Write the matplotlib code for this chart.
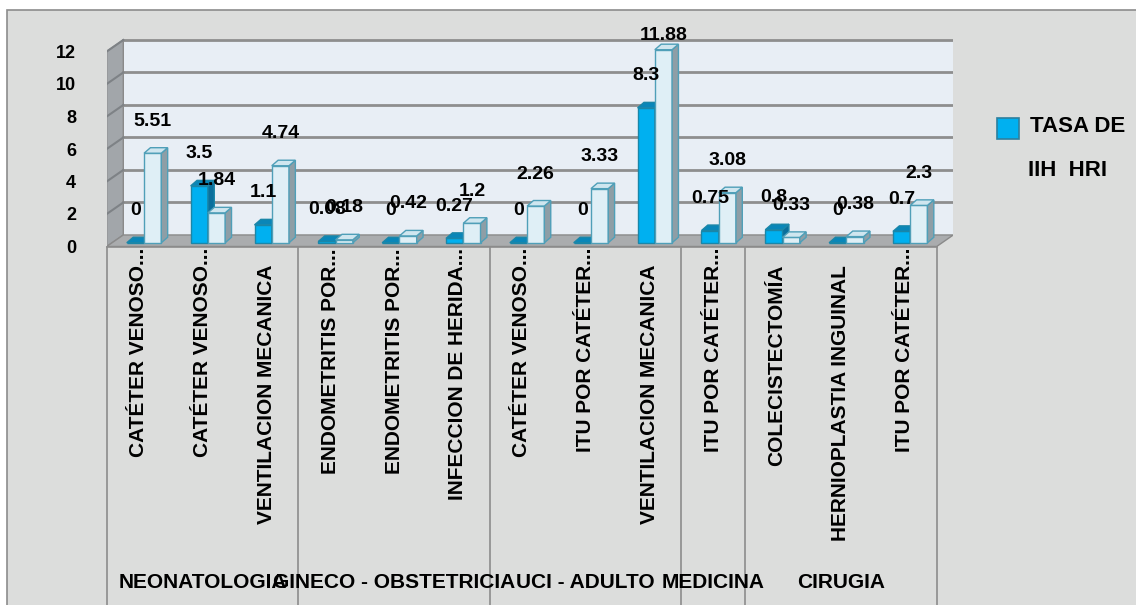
import numpy as np
import matplotlib
matplotlib.use("Agg")
import matplotlib.pyplot as plt
import matplotlib.transforms as mtransforms
from matplotlib.patches import Polygon, Rectangle

plt.rcParams['font.family'] = ['Liberation Sans', 'DejaVu Sans']
plt.rcParams['font.weight'] = 'bold'

# data
categories = ["CATÉTER VENOSO...", "CATÉTER VENOSO...", "VENTILACION MECANICA",
              "ENDOMETRITIS POR...", "ENDOMETRITIS POR...", "INFECCION DE HERIDA...",
              "CATÉTER VENOSO...", "ITU POR CATÉTER...", "VENTILACION MECANICA",
              "ITU POR CATÉTER...", "COLECISTECTOMÍA", "HERNIOPLASTIA INGUINAL",
              "ITU POR CATÉTER..."]
groups = ["NEONATOLOGIA", "GINECO - OBSTETRICIA", "UCI - ADULTO", "MEDICINA", "CIRUGIA"]
group_sizes = [3, 3, 3, 1, 3]
tasa_iih = [0, 3.5, 1.1, 0.08, 0, 0.27, 0, 0, 8.3, 0.75, 0.8, 0, 0.7]
hri = [5.51, 1.84, 4.74, 0.18, 0.42, 1.2, 2.26, 3.33, 11.88, 3.08, 0.33, 0.38, 2.3]
yticks = [0, 2, 4, 6, 8, 10, 12]

W, H = 1136, 605
fig = plt.figure(figsize=(W / 100, H / 100), dpi=100)
fig.patch.set_facecolor('white')
fig.patches.append(Rectangle((7 / W, -0.01), 1.0, 1.01 - 10 / H, transform=fig.transFigure,
                             facecolor='#dcdddc', edgecolor='#8c8c8c', lw=1.2, zorder=-5))

ax = fig.add_axes([106.7 / W, 1 - 246.5 / H, 846.6 / W, 211.25 / H])
ax.set_zorder(2)
ax.set_xlim(-0.5, 12.76)
ax.set_ylim(0, 13)
ax.patch.set_alpha(0)
for s in ax.spines.values():
    s.set_visible(False)
ax.set_xticks([])
ax.set_yticks(yticks)
ax.tick_params(axis='y', length=0, pad=22, labelsize=13)

n = len(categories)
DX, DY = 0.26, 0.71          # depth of the 3d box
left, right = -0.5, n - 0.5
grid_c = '#8e8e8e'

# walls and floor
ax.add_patch(Rectangle((left + DX, DY), n, 12, facecolor='#e8eef5', edgecolor='none', zorder=0))
ax.add_patch(Polygon([(left, 0), (left + DX, DY), (left + DX, 12 + DY), (left, 12)],
                     closed=True, facecolor='#a2a6aa', edgecolor='#8a8a8a', lw=1, zorder=1))
ax.add_patch(Polygon([(left, 0), (right, 0), (right + DX, DY), (left + DX, DY)],
                     closed=True, facecolor='#aaacae', edgecolor='#8a8a8a', lw=1, zorder=1))
for v in yticks[1:]:
    ax.plot([left + DX, right + DX], [v + DY, v + DY], color=grid_c, lw=2, zorder=1)
    ax.plot([left, left + DX], [v, v + DY], color='#7e8286', lw=1.5, zorder=1)

# 3d bars
w = 0.27
shift = 0.085
base = 0.23
ddx, ddy = 0.10, 0.34
x = np.arange(n)


def bars3d(xs, vals, front, top, side, edge, z):
    bars = ax.bar(xs, vals, w, bottom=base, color=front, edgecolor=edge, lw=1, zorder=z)
    for b in bars:
        x0, y0 = b.get_x(), b.get_y()
        x1, y1 = x0 + b.get_width(), y0 + b.get_height()
        ax.add_patch(Polygon([(x1, y0), (x1 + ddx, y0 + ddy), (x1 + ddx, y1 + ddy), (x1, y1)],
                             closed=True, facecolor=side, edgecolor=edge, lw=1, zorder=z))
        ax.add_patch(Polygon([(x0, y1), (x0 + ddx, y1 + ddy), (x1 + ddx, y1 + ddy), (x1, y1)],
                             closed=True, facecolor=top, edgecolor=edge, lw=1, zorder=z))
    return bars


for i in range(n):
    bars3d([x[i] + shift - w / 2], [tasa_iih[i]], '#00b0f0', '#0a86b8', '#0a6f9c', '#1a86a8', 3 + 2 * i)
    bars3d([x[i] + shift + w / 2], [hri[i]], '#dfeff6', '#cfe6ef', '#8e9ea6', '#4f9fb8', 4 + 2 * i)

# data labels
for i in range(n):
    for off, val in ((-w / 2, tasa_iih[i]), (w / 2, hri[i])):
        ax.text(x[i] + shift + off, min(base + val + 1.97, 13.0), f"{val:g}",
                ha='center', va='center', fontsize=14, zorder=50, clip_on=False)

# category axis below
trans = mtransforms.blended_transform_factory(ax.transData, fig.transFigure)
y_front = 1 - 246.5 / H
ax.plot([left, right], [y_front, y_front], transform=trans, color='#8c8c8c', lw=1.2, clip_on=False)
for i, lab in enumerate(categories):
    ytop = 1 - 248 / H if lab.endswith('...') else 1 - 265 / H
    ax.text(x[i], ytop, lab, rotation=90, ha='center', va='top', fontsize=15, transform=trans)

bounds = np.concatenate([[0], np.cumsum(group_sizes)]) - 0.5
for bx in bounds:
    ax.plot([bx, bx], [y_front, 0], transform=trans, color='#8c8c8c', lw=1.2, clip_on=False)
for g, a, b in zip(groups, bounds[:-1], bounds[1:]):
    ax.text((a + b) / 2, 1 - 582 / H, g, ha='center', va='center', fontsize=15, transform=trans)

# legend
fig.patches.append(Rectangle((997 / W, 1 - 139 / H), 22 / W, 21 / H, transform=fig.transFigure,
                             facecolor='#00b0f0', edgecolor='#2d7f9e', lw=1.2))
fig.text(1030 / W, 1 - 127 / H, "TASA DE", va='center', ha='left', fontsize=16)
fig.text(1028 / W, 1 - 171 / H, "IIH  HRI", va='center', ha='left', fontsize=16)

fig.savefig('out.png', dpi=100)
